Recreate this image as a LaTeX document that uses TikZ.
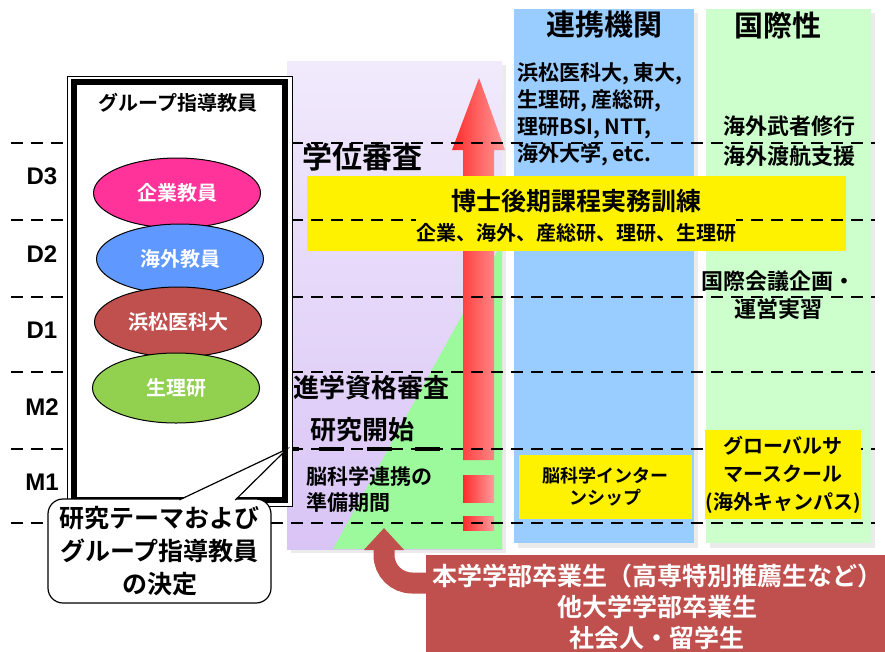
\documentclass[tikz,border=0pt]{standalone}
\usepackage{fontspec}
\setmainfont{Liberation Sans}
\newfontfamily\jpfont{Noto Sans CJK JP Bold}
\usetikzlibrary{shapes.geometric,arrows.meta}

\definecolor{colblue}{HTML}{99CCFF}
\definecolor{colgreen}{HTML}{CCFFCC}
\definecolor{trigreen}{HTML}{9CFA9C}
\definecolor{lavtop}{HTML}{F1EAFC}
\definecolor{lavbot}{HTML}{D9C4F6}
\definecolor{firmpink}{HTML}{FF3399}
\definecolor{abroadblue}{HTML}{5F99FF}
\definecolor{medred}{HTML}{C0504D}
\definecolor{nipsgreen}{HTML}{92D050}
\definecolor{arrowred}{HTML}{FF2B2B}
\definecolor{arrowpink}{HTML}{FF9C9C}

\newcommand\jp[2]{\jpfont\fontsize{#1}{#2}\selectfont}

\begin{document}
\begin{tikzpicture}[x=1pt,y=-1pt,
  gridline/.style={dash pattern=on 12pt off 8pt,line width=1.3pt},
  period/.style={inner sep=0pt,font=\bfseries\fontsize{24}{24}\selectfont},
  jtext/.style 2 args={inner sep=0pt,font=\jp{#1}{#2}},
  teacher/.style={ellipse,draw,line width=1pt,minimum width=167pt,minimum height=70pt,
    text=white,font=\jp{20}{24}}]
\useasboundingbox (0,0) rectangle (885,651);

% columns
\fill[black!8] (518,13) rectangle (698,548);
\fill[colblue] (514,9) rectangle (694,543);
\fill[black!8] (710,13) rectangle (875,548);
\fill[colgreen] (706,9) rectangle (871,543);

% study period area
\fill[black!8] (291,65) rectangle (506,553);
\shade[top color=lavtop,bottom color=lavbot] (287,61) rectangle (502,549);
\fill[trigreen] (333,549) -- (502,549) -- (502,243) -- cycle;

% red arrow
\shade[left color=arrowred,right color=arrowpink] (463,460) -- (463,150) -- (452,150)
  -- (479,78) -- (505,150) -- (494,150) -- (494,460) -- cycle;
\shade[left color=arrowred,right color=arrowpink] (463,475) rectangle (494,502);
\shade[left color=arrowred,right color=arrowpink] (463,516) rectangle (494,530);

% training band
\fill[yellow] (307,176) rectangle (846,251);
\node[jtext={25}{30}] (training) at (576,201) {博士後期課程実務訓練};

% year lines
\foreach \y in {143,220,297,372,449,523}
  \draw[gridline] (11,\y) -- (875,\y);

\node[jtext={20}{24},fill=yellow,minimum height=30pt] (partners) at (576,233)
  {企業、海外、産総研、理研、生理研};

% supervisors
\draw[fill=white,line width=1pt] (67,76) rectangle (292,506);
\draw[line width=6pt] (74,82) rectangle (285,500);
\node[jtext={20}{24}] (guide) at (178,103) {グループ指導教員};
\node[teacher,fill=firmpink] (firm) at (177,193) {企業教員};
\node[teacher,fill=abroadblue] (abroad) at (180,259) {海外教員};
\node[teacher,fill=medred] (hmed) at (178,322) {浜松医科大};
\node[teacher,fill=nipsgreen] (nips) at (176,388) {生理研};

\foreach \lab/\y in {D3/176,D2/254,D1/330,M2/407,M1/482}
  \node[period] (\lab) at (42,\y) {\lab};

% milestones
\node[jtext={30}{36},anchor=west] (degree) at (302,157) {学位審査};
\node[jtext={26}{30},anchor=west] (qualify) at (293,388) {進学資格審査};
\node[jtext={26}{30},anchor=west] (start) at (310,430) {研究開始};
\node[jtext={21}{26},anchor=west,align=left] (prep) at (306,489) {脳科学連携の\\準備期間};
\foreach \a/\b in {292/299,319/344,367/392,415/440}
  \draw[line width=4.5pt] (\a,449) -- (\b,449);

% column texts
\node[jtext={29}{34}] (partnerhead) at (604,25) {連携機関};
\node[jtext={29}{34}] (globalhead) at (778,25) {国際性};
\node[jtext={21}{27},anchor=west,align=left] (partnerlist) at (517,114)
  {浜松医科大, 東大,\\生理研, 産総研,\\理研BSI, NTT,\\海外大学, etc.};
\node[jtext={22}{30},align=center] (abroadtrain) at (789,141) {海外武者修行\\海外渡航支援};
\node[jtext={22}{28},align=center] (conference) at (778,295) {国際会議企画・\\運営実習};
\node[jtext={18}{22},fill=yellow,minimum width=173pt,minimum height=64pt,align=center]
  (intern) at (605.5,487) {脳科学インター\\ンシップ};
\node[jtext={20}{28},fill=yellow,minimum width=152pt,minimum height=89pt,align=center]
  (summer) at (783,474.5) {グローバルサ\\マースクール\\(海外キャンパス)};

% callout
\coordinate (tip) at (287,449);
\node[jtext={25}{33},draw,fill=white,line width=1.2pt,rounded corners=15pt,
  minimum width=223pt,minimum height=104pt,align=center] (decision) at (159.5,551)
  {研究テーマおよび\\グループ指導教員\\の決定};
\draw[fill=white,line width=1.2pt] ([xshift=132pt,yshift=-1.5pt]decision.north west)
  -- (tip) -- ([xshift=188pt,yshift=-1.5pt]decision.north west);

% entrants
\node[fill=medred,minimum width=470pt,minimum height=100pt] (entrybox) at (661,605) {};
\node[jtext={25}{31},text=white,align=center] (entry) at (657,607)
  {本学学部卒業生（高専特別推薦生など）\\他大学学部卒業生\\社会人・留学生};
\draw[medred,line width=21pt,rounded corners=28pt,-{Triangle[width=39pt,length=22pt]}]
  ([xshift=6pt,yshift=22pt]entrybox.west) -| (384,528);
\end{tikzpicture}
\end{document}
